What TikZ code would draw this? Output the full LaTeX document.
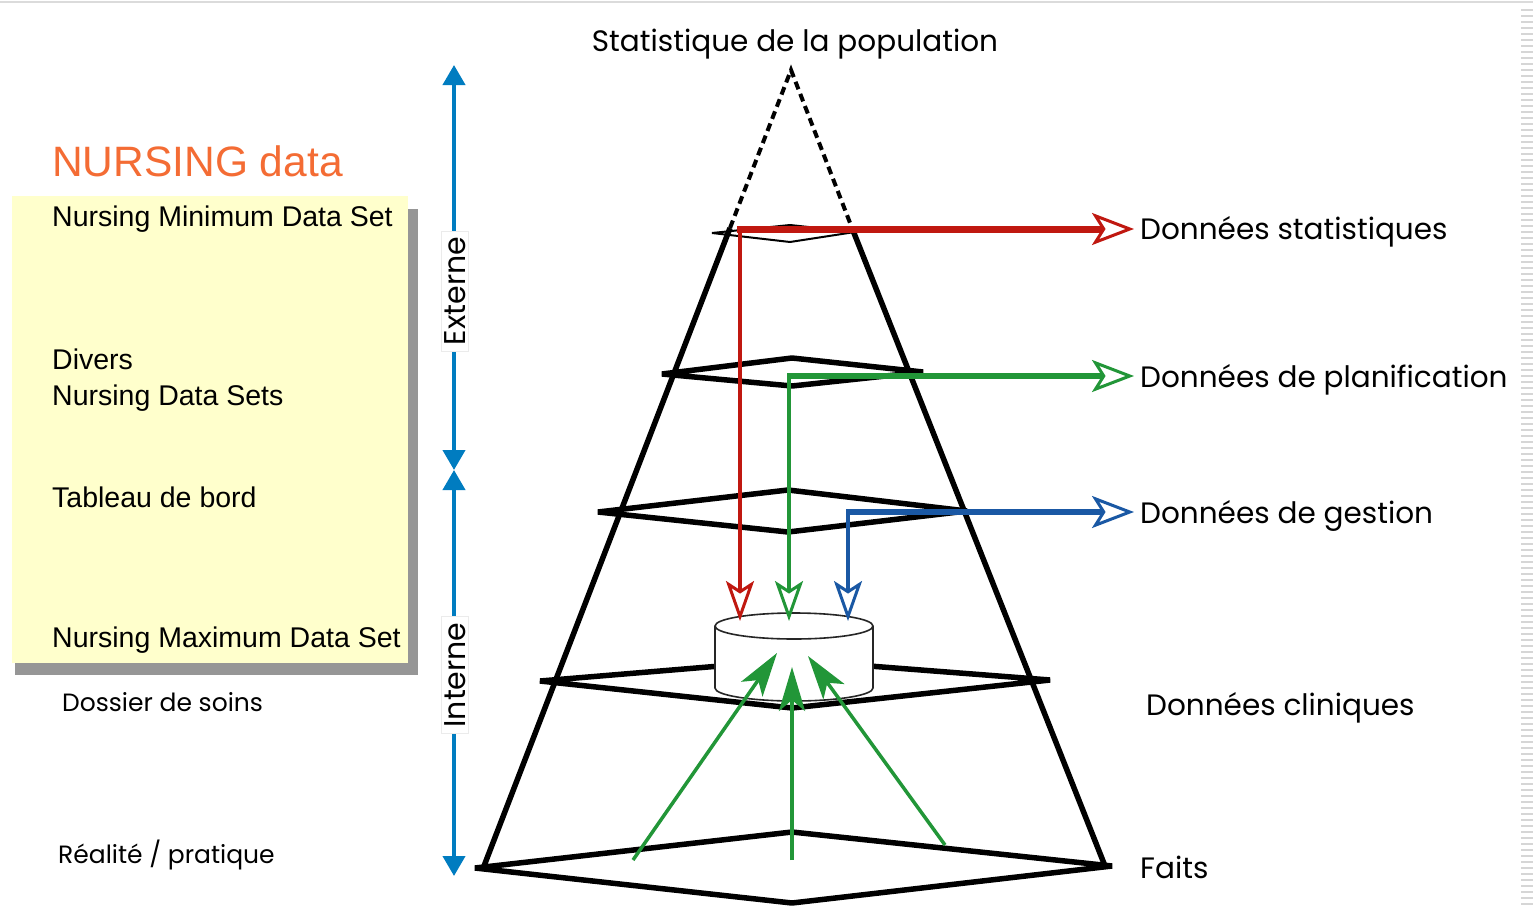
\documentclass[tikz,border=0pt]{standalone}
\usepackage{fontspec}
\setmainfont{Poppins}
\newfontfamily\arialfont{Liberation Sans}
\usetikzlibrary{arrows.meta,calc}
\definecolor{nurseorange}{RGB}{244,108,52}
\definecolor{boxyellow}{RGB}{255,255,204}
\definecolor{shadowgrey}{RGB}{150,150,150}
\definecolor{axisblue}{RGB}{0,124,192}
\definecolor{statred}{RGB}{192,24,16}
\definecolor{plangreen}{RGB}{34,150,56}
\definecolor{gestblue}{RGB}{26,88,164}
\tikzset{
  layer/.style={line width=5.5pt, line join=bevel},
  pyrside/.style={line width=5.5pt},
  geo/.style={font=\fontsize{29.5}{34}\selectfont, inner sep=0pt, anchor=base west},
  geosmall/.style={font=\fontsize{25}{30}\selectfont, inner sep=0pt, anchor=base west},
  boxtext/.style={font=\arialfont\fontsize{28.5}{32}\selectfont, inner sep=0pt, anchor=base west},
  axis/.style={draw=axisblue, line width=4pt, {Triangle[length=20pt,width=22pt]}-{Triangle[length=20pt,width=22pt]}},
  axislabel/.style={font=\fontsize{30}{34}\selectfont, rotate=90, fill=white, draw=black!8, inner xsep=6pt, inner ysep=3pt},
  openhead/.style={-{Stealth[open, length=42pt, width=32pt, inset=10pt, line width=3pt]}},
  downhead/.style={-{Stealth[open, length=40pt, width=28pt, inset=9pt, line width=3pt]}},
  uphead/.style={-{Stealth[length=44pt, width=26pt, inset=11pt]}},
}
\begin{document}
\begin{tikzpicture}[x=1pt, y=-1pt]
\useasboundingbox (0,0) rectangle (1533,907);
\fill[white] (0,0) rectangle (1533,907);

% frame details at the top and right edge
\draw[black!14, line width=2pt] (0,2) -- (1533,2);
\foreach \yy in {10,16,...,904} \draw[black!16, line width=1.2pt] (1521,\yy) -- (1533,\yy);

% title
\node[geo, anchor=base] (title) at (795,52) {Statistique de la population};

% left panel: data sets
\node[font=\arialfont\fontsize{42.5}{48}\selectfont, text=nurseorange, inner sep=0pt, anchor=base west] (nursing) at (52,176) {NURSING data};
\fill[shadowgrey] (15,209) rectangle (418,675);
\fill[boxyellow] (12,196) rectangle (408,663);
\node[boxtext] (nmin) at (52,226) {Nursing Minimum Data Set};
\node[boxtext] (divers) at (52,369) {Divers};
\node[boxtext] (nsets) at (52,405) {Nursing Data Sets};
\node[boxtext] (tdb) at (52,507) {Tableau de bord};
\node[boxtext] (nmax) at (52,647) {Nursing Maximum Data Set};
\node[geosmall] (dossier) at (62,711) {Dossier de soins};
\node[geosmall] (realite) at (58,863) {Réalité / pratique};

% external / internal axis
\coordinate (axmid) at (454,470);
\coordinate (axtop) at (454,65);
\coordinate (axbot) at (454,876);
\draw[axis] (axmid) -- (axtop);
\draw[axis] (axmid) -- (axbot);
\node[axislabel] (externe) at (455,291) {Externe};
\node[axislabel] (interne) at (455,675) {Interne};

% pyramid: dashed apex and solid sides
\coordinate (apex) at (791,70);
\coordinate (tl) at (730,228);
\coordinate (tr) at (852,228);
\coordinate (bl) at (484,866);
\coordinate (br) at (1105,866);
\draw[line width=4pt, dash pattern=on 8pt off 5pt] (tl) -- (apex) -- (tr);
\draw[pyrside] (tl) -- (bl);
\draw[pyrside] (tr) -- (br);

% horizontal levels
\draw[line width=2pt, line join=bevel] (712,233) -- (790,225) -- (855,232) -- (790,242) -- cycle;
\draw[layer] (662,374) -- (792,358) -- (923,372) -- (792,386) -- cycle;
\draw[layer] (598,512) -- (788,490) -- (967,511) -- (788,532) -- cycle;
\draw[layer] (540,681) -- (792,660) -- (1050,680) -- (792,708) -- cycle;
\draw[layer] (475,868) -- (792,832) -- (1112,866) -- (792,903) -- cycle;

% clinical database cylinder
\fill[white] (715,626) rectangle (873,688);
\fill[white] (794,688) ellipse[x radius=79, y radius=13];
\draw[black!85, line width=1.6pt] (715,626) -- (715,688);
\draw[black!85, line width=1.6pt] (873,626) -- (873,688);
\begin{scope}
  \clip (700,688) rectangle (890,712);
  \draw[black!85, line width=1.6pt] (794,688) ellipse[x radius=79, y radius=13];
\end{scope}
\draw[black!85, line width=1.6pt, fill=white] (794,626) ellipse[x radius=79, y radius=13];
\coordinate (cylL) at (740,621);
\coordinate (cylM) at (789,621);
\coordinate (cylR) at (848,621);

% right-hand labels
\node[geo] (dstat) at (1140,239) {Données statistiques};
\node[geo] (dplan) at (1140,387) {Données de planification};
\node[geo] (dgest) at (1140,523) {Données de gestion};
\node[geo] (dclin) at (1146,715) {Données cliniques};
\node[geo] (faits) at (1140,878) {Faits};

% statistical data
\coordinate (rc) at (740,229);
\draw[statred, line width=3.5pt, downhead] (rc) -- (cylL);
\draw[statred, line width=7pt, openhead] ($(rc)+(-3,0)$) -- ($(rc -| dstat.west)+(-6,0)$);

% planning data
\coordinate (gc) at (789,376);
\draw[plangreen, line width=4.5pt, downhead] (gc) -- (cylM);
\draw[plangreen, line width=6pt, openhead] ($(gc)+(-2,0)$) -- ($(gc -| dplan.west)+(-6,0)$);

% management data
\coordinate (bc) at (848,512);
\draw[gestblue, line width=4.5pt, downhead] (bc) -- (cylR);
\draw[gestblue, line width=5.5pt, openhead] ($(bc)+(-2,0)$) -- ($(bc -| dgest.west)+(-6,0)$);

% facts feeding the clinical data
\coordinate (f1) at (633,860);
\coordinate (f2) at (792,860);
\coordinate (f3) at (945,845);
\coordinate (c1) at (777,653);
\coordinate (c2) at (792,667);
\coordinate (c3) at (808,656);
\draw[plangreen, line width=3.5pt, uphead] (f1) -- (c1);
\draw[plangreen, line width=3.5pt, uphead] (f2) -- (c2);
\draw[plangreen, line width=3.5pt, uphead] (f3) -- (c3);
\end{tikzpicture}
\end{document}
